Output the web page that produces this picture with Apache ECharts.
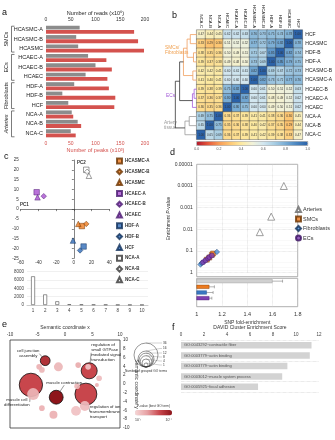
<!DOCTYPE html>
<html><head><meta charset="utf-8">
<script src="https://cdn.jsdelivr.net/npm/echarts@6/dist/echarts.min.js"></script>
<style>html,body{margin:0;padding:0;background:#fff}#c{width:335px;height:440px}</style>
</head><body><div id="c"></div>
<script>
// ---------- DATA ----------
// panel a
const cellLines = ['HCASMC-A','HCASMC-B','HCASMC','HCAEC-A','HCAEC-B','HCAEC','HDF-A','HDF-B','HCF','NCA-A','NCA-B','NCA-C'];
const readsM = [68,61,65,85,100,80,57,33,45,52,64,50];
const peaksK = [178,186,198,122,133,124,127,140,138,55,71,60];
const groupNames = ['SMCs','ECs','Fibroblasts','Arteries'];
const groupStart = [0,3,6,9];
const groupEnd = [2,5,8,11];
// panel b
const hmCols = ['NCA-C','NCA-B','NCA-A','HCAEC','HCAEC-A','HCAEC-B','HCASMC-A','HCASMC-B','HDF-A','HDF-B','HCASMC','HCF'];
const hmRows = ['HCF','HCASMC','HDF-B','HDF-A','HCASMC-B','HCASMC-A','HCAEC-B','HCAEC-A','HCAEC','NCA-A','NCA-B','NCA-C'];
const corr = [
 [0.47,0.44,0.45,0.62,0.62,0.63,0.76,0.73,0.75,0.74,0.78,1.00],
 [0.33,0.29,0.30,0.51,0.52,0.52,0.77,0.72,0.79,0.82,1.00,0.78],
 [0.38,0.35,0.36,0.50,0.49,0.51,0.71,0.67,0.85,1.00,0.82,0.74],
 [0.39,0.37,0.38,0.49,0.48,0.50,0.73,0.69,1.00,0.85,0.79,0.75],
 [0.42,0.42,0.41,0.60,0.61,0.61,0.82,1.00,0.69,0.67,0.72,0.73],
 [0.41,0.40,0.41,0.60,0.60,0.60,1.00,0.82,0.73,0.71,0.77,0.76],
 [0.39,0.38,0.39,0.75,0.82,1.00,0.60,0.61,0.50,0.51,0.52,0.63],
 [0.37,0.36,0.37,0.80,1.00,0.82,0.60,0.61,0.48,0.49,0.52,0.62],
 [0.36,0.35,0.36,1.00,0.80,0.75,0.60,0.60,0.49,0.50,0.51,0.62],
 [0.69,0.75,1.00,0.36,0.37,0.39,0.41,0.41,0.38,0.36,0.30,0.45],
 [0.65,1.00,0.75,0.35,0.36,0.38,0.40,0.42,0.37,0.35,0.29,0.44],
 [1.00,0.65,0.69,0.36,0.37,0.39,0.41,0.42,0.39,0.38,0.33,0.47]
];
// dendrogram links
const dendroA = [0,2,0.5,4,1.5,6,6.5,3,9,9.5,5.125];
const dendroB = [1,3,2.5,5,4.5,7,8,7.25,10,11,10.25];
const dendroHA = [0,0,0.30,0,0.45,0,0.12,0.62,0,0.35,0.8];
const dendroHB = [0,0,0.15,0,0.18,0,0,0.2,0,0,0.55];
const dendroH = [0.30,0.15,0.45,0.18,0.62,0.12,0.2,0.8,0.35,0.55,1.0];
const dendroCluster = [0,0,0,0,0,1,1,2,3,3,2];
// panel c
const pc1 = [9,14,5,-42,-34,-41,11,7,-1,14,15,17];
const pc2 = [-8.6,-7.5,-7.5,8.6,6.6,6,-19,-21,-16,20,19,17];
const screeComp = ['1','2','3','4','5','6','7','8','9','10'];
const screeVal = [6900,2550,900,200,150,120,100,60,50,40];
// panel d
const artFold = [1.69,1.59,1.50], artP = [0.0001,0.0026,0.0135];
const smcFold = [1.08,1.10,1.12,1.13], smcP = [0.25,0.2,0.15,0.13];
const fibFold = [1.03,1.04,1.06,1.16], fibP = [0.42,0.36,0.3,0.11];
const ecFold = [1.05,1.07,1.09,1.10,1.12], ecP = [0.33,0.27,0.22,0.19,0.16];
const enrichGroups = ['Arteries','SMCs','Fibroblasts','ECs',''];
const meanFold = [1.60,1.10,1.08,1.10];
const foldErr = [0.08,0.04,0.05,0.02];
// panel e
const goLabel = ['cell junction\nassembly','muscle cell\ndifferentiation','','muscle contraction','regulation of\nsmall GTPase\nmediated signal\ntransduction','regulation of ion\ntransmembrane\ntransport','','','','','','','','','','','',''];
const goX = [-3.6,-6.2,-5.8,-1.6,4.4,3.8,-1.2,-4.7,-4.2,2.4,6.2,5.8,2.2,-4.2,-2.1,2.0,3.6,4.2];
const goY = [5.3,-0.2,-2.3,-3.0,3.0,-2.3,3.9,3.9,3.2,4.3,1.3,-0.2,-0.5,-5.5,-7.0,-6.1,-5.0,3.9];
const goN = [6,34,9,12,16,30,5,2,2,2,2,1,2,2,4,6,6,2];
const goLogP = [3.4,3.0,1.6,4.0,3.0,3.0,1.6,1.7,1.6,1.8,1.5,1.7,1.6,1.7,1.7,1.4,1.5,1.3];
const sizeLegendN = [36,16,12,8,4,1];
// panel f
const davidTerms = ['GO:0043292~contractile fiber','GO:0003779~actin binding','GO:0003779~actin binding','GO:0003012~muscle system process','GO:0005925~focal adhesion'];
const davidScore = [11.35,11.2,9.25,8.8,6.7];

// ---------- STYLE ----------
const FONT = 'Liberation Sans, Arial, sans-serif';
const RED = '#d4524e', GRAY = '#8c8c8c';
const cOr = '#ec7a1f', cPu = '#a84fd0', cBl = '#2f6cb8';
const dendroColors = ['#f0a060','#a45ad8','#333','#9a9a9a'];
const goLabelPos = [[-17,-7,'center'],[-14,17,'center'],null,[8,-14.5,'center'],[2,-18,'left'],[4,18,'left']];
const bubbleD = n => 4*Math.sqrt(n);

const chart = echarts.init(document.getElementById('c'));
const noLine = {show:false};

const pcaStyle = [
 ['rect',cOr,'#6a3300'],['diamond',cOr,'#6a3300'],['triangle',cOr,'#6a3300'],
 ['rect',cPu,'#4a1a70'],['diamond',cPu,'#4a1a70'],['triangle',cPu,'#4a1a70'],
 ['rect',cBl,'#10305a'],['diamond',cBl,'#10305a'],['triangle',cBl,'#10305a'],
 ['rect','#fff','#333'],['diamond','#fff','#333'],['triangle','#fff','#333']
];
const pcaSeries = cellLines.map((n,i)=>({
  type:'scatter', name:n, xAxisIndex:5, yAxisIndex:4, symbol:pcaStyle[i][0], symbolSize:5.5,
  itemStyle:{color:pcaStyle[i][1], borderColor:pcaStyle[i][2], borderWidth:0.6},
  data:[[pc1[i],pc2[i]]]
}));

const heatData = [];
hmRows.forEach((r,ri)=>hmCols.forEach((c,ci)=>heatData.push([ci,ri,corr[ri][ci]])));

const logFmt = v => v>=1 ? '1' : v.toFixed(Math.round(-Math.log10(v)));

const option = {
 animation:false,
 textStyle:{fontFamily:FONT},
 grid:[
  {left:46, top:25, width:99, height:113},
  {left:196.7, top:30, width:111, height:109.3},
  {left:170, top:30, width:26.7, height:109.3},
  {left:20.7, top:160, width:88.6, height:98.3},
  {left:27, top:271.7, width:121, height:33.3},
  {left:196.7, top:164.3, width:101, height:108.4},
  {left:196.7, top:278.3, width:101, height:28.4, show:true, borderColor:'#999', borderWidth:0.8},
  {left:10, top:340, width:110, height:88, show:true, borderColor:'#333', borderWidth:0.8},
  {left:181, top:340, width:138, height:52},
  {left:196.7, top:141.5, width:111, height:4}
 ],
 xAxis:[
  {gridIndex:0, type:'value', min:0, max:200, interval:50, position:'bottom', axisLine:noLine, axisTick:noLine, splitLine:noLine,
   axisLabel:{fontSize:5, color:RED, margin:3}, name:'Number of peaks (x10³)', nameLocation:'middle', nameGap:9, nameTextStyle:{fontSize:5.5, color:RED}},
  {gridIndex:0, type:'value', min:0, max:200, interval:50, position:'top', axisLine:noLine, axisTick:noLine, splitLine:noLine,
   axisLabel:{fontSize:5, color:'#333', margin:3}, name:'Number of reads (x10⁶)', nameLocation:'middle', nameGap:9, nameTextStyle:{fontSize:5.5, color:'#222'}},
  {gridIndex:1, type:'category', data:hmCols, position:'top', axisLine:noLine, axisTick:noLine, axisLabel:{rotate:90, fontSize:4.3, margin:2, color:'#222'}},
  {gridIndex:9, type:'value', min:0, max:1, interval:0.2, axisLine:noLine, axisTick:noLine, splitLine:noLine, axisLabel:{fontSize:3.5, margin:2, color:'#555', formatter:v=>v.toFixed(1)}},
  {gridIndex:2, type:'value', min:0, max:1.25, inverse:true, show:false},
  {gridIndex:3, type:'value', min:-60, max:40, interval:20, axisLine:{lineStyle:{color:'#333', width:0.6}}, axisTick:{length:2, lineStyle:{width:0.6}}, splitLine:noLine, axisLabel:{fontSize:4.5, margin:2, color:'#333'}},
  {gridIndex:4, type:'category', data:screeComp, axisLine:{lineStyle:{color:'#ccc'}}, axisTick:noLine, axisLabel:{fontSize:4.5, margin:3, color:'#444'}},
  {gridIndex:5, type:'value', min:1, max:1.8, interval:0.2, axisLine:noLine, axisTick:noLine, axisLabel:{show:false}, splitLine:{lineStyle:{type:'dotted', color:'#ccc', width:0.6}}},
  {gridIndex:6, type:'value', min:1, max:1.8, interval:0.2, axisLine:noLine, axisTick:noLine, axisLabel:{fontSize:5.5, margin:5, color:'#333', formatter:v=>String(+v.toFixed(1))},
   splitLine:{lineStyle:{type:'dotted', color:'#ccc', width:0.6}}, name:'SNP fold-enrichment', nameLocation:'middle', nameGap:13, nameTextStyle:{fontSize:5, color:'#333'}},
  {gridIndex:7, type:'value', min:-10, max:10, interval:5, position:'top', axisLine:noLine, axisTick:noLine, splitLine:noLine, axisLabel:{fontSize:4.5, margin:3, color:'#333'},
   name:'Semantic coordinate x', nameLocation:'middle', nameGap:10, nameTextStyle:{fontSize:5, color:'#333'}},
  {gridIndex:8, type:'value', min:0, max:12, interval:2, position:'top', axisLine:noLine, axisTick:noLine, splitLine:noLine, axisLabel:{fontSize:4.5, margin:3, color:'#444'},
   name:'DAVID Cluster Enrichment Score', nameLocation:'middle', nameGap:10, nameTextStyle:{fontSize:5, color:'#333'}}
 ],
 yAxis:[
  {gridIndex:0, type:'category', data:cellLines, inverse:true, axisLine:noLine, axisTick:noLine, axisLabel:{fontSize:5.5, margin:3, color:'#222'}},
  {gridIndex:1, type:'category', data:hmRows, inverse:true, position:'right', axisLine:noLine, axisTick:noLine, axisLabel:{fontSize:5, margin:3, color:'#222'}},
  {gridIndex:9, type:'value', show:false},
  {gridIndex:2, type:'value', min:-0.5, max:11.5, inverse:true, show:false},
  {gridIndex:3, type:'value', min:-25, max:25, interval:5, axisLine:{lineStyle:{color:'#333', width:0.6}}, axisTick:{length:2, lineStyle:{width:0.6}}, splitLine:noLine, axisLabel:{fontSize:4.5, margin:2, color:'#333'}},
  {gridIndex:4, type:'value', min:0, max:8000, interval:2000, axisLine:noLine, axisTick:noLine, splitLine:{lineStyle:{color:'#e6e6e6', width:0.6}}, axisLabel:{fontSize:4.5, margin:3, color:'#444', formatter:v=>String(v)}},
  {gridIndex:5, type:'log', min:0.00001, max:1, inverse:true, axisLine:noLine, axisTick:noLine, axisLabel:{fontSize:5, margin:4, color:'#333', formatter:logFmt},
   splitLine:{lineStyle:{type:'dotted', color:'#ccc', width:0.6}}, minorTick:{show:false, splitNumber:4}, minorSplitLine:{show:true, lineStyle:{type:'dotted', color:'#e2e2e2', width:0.5}},
   name:'Enrichment {i|P}-value', nameLocation:'middle', nameGap:24, nameTextStyle:{fontSize:5, color:'#333', rich:{i:{fontStyle:'italic', fontSize:5}}}},
  {gridIndex:6, type:'category', data:enrichGroups, inverse:true, show:false},
  {gridIndex:7, type:'value', min:-10, max:10, interval:2, position:'right', axisLine:noLine, axisTick:noLine, splitLine:noLine, axisLabel:{fontSize:4.5, margin:3, color:'#333'},
   name:'Semantic coordinate y', nameLocation:'middle', nameGap:12, nameRotate:-90, nameTextStyle:{fontSize:5, color:'#333'}},
  {gridIndex:8, type:'category', data:davidTerms.map((t,i)=>String(i)), inverse:true, axisLine:noLine, axisTick:noLine, axisLabel:{show:false},
   splitLine:{show:true, lineStyle:{type:'dotted', color:'#c8c8c8', width:0.6}}}
 ],
 visualMap:[
  {type:'continuous', seriesIndex:3, dimension:2, min:0, max:1, orient:'horizontal', left:196.7, top:141.5, itemWidth:4, itemHeight:111, padding:0,
   calculable:false, hoverLink:false, text:null,
   inRange:{color:['#b2182b','#e4553a','#f79a55','#fdc672','#fde9a0','#f2f2d8','#d2e6ef','#a8cde3','#78acd4','#4a85c0','#2b62a8']}},
  {type:'continuous', seriesIndex:24, dimension:3, min:1, max:4, orient:'horizontal', left:135, top:410, itemWidth:5.5, itemHeight:37, padding:0,
   calculable:false, hoverLink:false, text:null, inRange:{color:['#f6d6d6','#e6a0a3','#c8464c','#8e151b']}}
 ],
 legend:[
  {data:cellLines, orient:'vertical', left:116, top:157.5, itemWidth:5, itemHeight:5, itemGap:3.8, padding:0,
   textStyle:{fontSize:4.5, fontWeight:'bold', color:'#333', padding:[0,0,0,-2]}},
  {data:['Arteries','SMCs','Fibroblasts','ECs'], orient:'vertical', left:295, top:206, itemWidth:5, itemHeight:5, itemGap:2.5, padding:0,
   textStyle:{fontSize:5.5, color:'#333', padding:[0,0,0,-3]}}
 ],
 series:[
  {type:'bar', name:'reads', xAxisIndex:1, yAxisIndex:0, data:readsM, barWidth:3.8, barGap:'12%', itemStyle:{color:GRAY}},
  {type:'bar', name:'peaks', xAxisIndex:0, yAxisIndex:0, data:peaksK, barWidth:3.8, barGap:'12%', itemStyle:{color:RED}},
  {type:'custom', xAxisIndex:0, yAxisIndex:0, data:groupStart.map((s,i)=>[s, groupEnd[i]]),
   renderItem:function(params, api){
     const band = api.size([0,1])[1];
     const p0 = api.coord([0, api.value(0)]), p1 = api.coord([0, api.value(1)]);
     const y0 = p0[1]-band/2+1.2, y1 = p1[1]+band/2-1.2;
     const xL = p0[0]-34.5, xR = xL+3;
     return {type:'group', children:[
      {type:'polyline', shape:{points:[[xR,y0],[xL,y0],[xL,y1],[xR,y1]]}, style:{stroke:'#444', fill:null, lineWidth:0.7}},
      {type:'text', x:xL-5, y:(y0+y1)/2, rotation:Math.PI/2, style:{text:groupNames[params.dataIndex], fontSize:5.5, fill:'#222', align:'center', verticalAlign:'middle',
        fontStyle: params.dataIndex===3?'italic':'normal', fontFamily:FONT}}
     ]};
   }},
  {type:'heatmap', xAxisIndex:2, yAxisIndex:1, data:heatData, itemStyle:{borderColor:'#3a3a3a', borderWidth:0.4},
   label:{show:true, fontSize:3, color:'#333', formatter:p=>p.value[2].toFixed(2)}},
  {type:'custom', xAxisIndex:4, yAxisIndex:3, data:dendroA.map((a,i)=>[dendroHA[i], a, dendroB[i], dendroHB[i], dendroH[i], dendroCluster[i]]),
   renderItem:function(params, api){
     const a = api.coord([api.value(0), api.value(1)]);
     const ja = api.coord([api.value(4), api.value(1)]);
     const jb = api.coord([api.value(4), api.value(2)]);
     const b = api.coord([api.value(3), api.value(2)]);
     return {type:'polyline', shape:{points:[a,ja,jb,b]}, style:{stroke:dendroColors[api.value(5)], fill:null, lineWidth:0.8}};
   }},
  ...pcaSeries,
  {type:'bar', name:'scree', xAxisIndex:6, yAxisIndex:5, data:screeVal, barWidth:4, itemStyle:{color:'#fff', borderColor:'#666', borderWidth:0.7}},
  {type:'scatter', name:'Arteries', xAxisIndex:7, yAxisIndex:6, symbol:'triangle', symbolSize:7, itemStyle:{color:'#fff', borderColor:'#666', borderWidth:0.8}, data:artFold.map((f,i)=>[f,artP[i]])},
  {type:'scatter', name:'SMCs', xAxisIndex:7, yAxisIndex:6, symbol:'rect', symbolSize:5, itemStyle:{color:cOr, borderColor:'#6a3300', borderWidth:0.5}, data:smcFold.map((f,i)=>[f,smcP[i]])},
  {type:'scatter', name:'Fibroblasts', xAxisIndex:7, yAxisIndex:6, symbol:'diamond', symbolSize:5.5, itemStyle:{color:'#4a8fd6', borderColor:'#10305a', borderWidth:0.5}, data:fibFold.map((f,i)=>[f,fibP[i]])},
  {type:'scatter', name:'ECs', xAxisIndex:7, yAxisIndex:6, symbol:'circle', symbolSize:5, itemStyle:{color:'#7e3fb0', borderColor:'#3a1060', borderWidth:0.5}, data:ecFold.map((f,i)=>[f,ecP[i]])},
  {type:'bar', name:'enrichBar', xAxisIndex:8, yAxisIndex:7, barWidth:4,
   data:meanFold.map((v,i)=>({value:v, itemStyle:{color:['#d0d0d0',cOr,'#3a78c2','#7e3fb0'][i], borderColor:['#999','#7a3a00','#1a4a8a','#4a1a70'][i], borderWidth:0.4}}))},
  {type:'custom', xAxisIndex:8, yAxisIndex:7, data:meanFold.map((v,i)=>[v-foldErr[i], i, v+foldErr[i]]),
   renderItem:function(params, api){
     const a = api.coord([api.value(0), api.value(1)]), b = api.coord([api.value(2), api.value(1)]);
     return {type:'group', children:[
       {type:'line', shape:{x1:a[0],y1:a[1],x2:b[0],y2:b[1]}, style:{stroke:'#666', lineWidth:0.5}},
       {type:'line', shape:{x1:b[0],y1:b[1]-1.5,x2:b[0],y2:b[1]+1.5}, style:{stroke:'#666', lineWidth:0.5}}
     ]};
   }},
  {type:'scatter', name:'go', xAxisIndex:9, yAxisIndex:8,
   symbolSize:v=>bubbleD(v[2]),
   data:goX.map((x,i)=>({value:[x, goY[i], goN[i], goLogP[i]], name:goLabel[i],
     itemStyle: goLabel[i] ? {borderColor:'#111', borderWidth:0.8, opacity:1} : {opacity:0.92},
     label: goLabel[i] ? {show:true} : {show:false},
     labelLine: goLabel[i] ? {show:true} : {show:false}})),
   label:{show:false, formatter:p=>p.name, fontSize:4.3, color:'#222', lineHeight:5},
   labelLine:{show:false, lineStyle:{color:'#333', width:0.5}},
   labelLayout:function(p){
     const o = goLabelPos[p.dataIndex];
     if(!o) return {};
     return {x:p.rect.x+p.rect.width/2+o[0], y:p.rect.y+p.rect.height/2+o[1], align:o[2], verticalAlign:'middle'};
   }},
  {type:'bar', name:'david', xAxisIndex:10, yAxisIndex:9, data:davidScore, barWidth:6.5, itemStyle:{color:'#d3d3d3'},
   label:{show:true, position:'insideLeft', distance:3, fontSize:4, color:'#555', formatter:p=>davidTerms[p.dataIndex]}}
 ],
 graphic:[]
};

// panel letters and annotations
const G = option.graphic;
[['a',2,13],['b',172,16],['c',4,157],['d',170,153],['e',2,325],['f',172,328]].forEach(t=>
  G.push({type:'text', x:t[1], y:t[2], style:{text:t[0], fontSize:9, fill:'#111', fontFamily:FONT, verticalAlign:'middle'}}));
G.push({type:'text', x:165, y:50, style:{text:'SMCs/\nFibroblasts', fontSize:4.8, fill:'#f0a050', fontFamily:FONT, verticalAlign:'middle', lineHeight:5.5}});
G.push({type:'text', x:166, y:96, style:{text:'ECs', fontSize:4.8, fill:'#a45ad8', fontFamily:FONT, verticalAlign:'middle'}});
G.push({type:'text', x:164, y:125, style:{text:'Artery\ntissue', fontSize:4.8, fill:'#999', fontFamily:FONT, verticalAlign:'middle', lineHeight:5.5}});
G.push({type:'rect', shape:{x:196.7, y:141.5, width:111, height:4}, style:{fill:null, stroke:'#333', lineWidth:0.4}});
G.push({type:'text', x:20, y:205, style:{text:'PC1', fontSize:4.5, fontWeight:'bold', fill:'#333', fontFamily:FONT, verticalAlign:'middle'}});
G.push({type:'text', x:77, y:163, style:{text:'PC2', fontSize:4.5, fontWeight:'bold', fill:'#333', fontFamily:FONT, verticalAlign:'middle'}});
G.push({type:'rect', shape:{x:196.7, y:164.3, width:101, height:112.4}, style:{fill:null, stroke:'#999', lineWidth:0.8}});
// panel e size legend
const lx = 146, lb = 367;
const labY = [343,348.5,353,357,361,365];
sizeLegendN.forEach((n,i)=>{
  const r = bubbleD(n)/2;
  G.push({type:'circle', shape:{cx:lx, cy:lb-r, r:r}, style:{fill:null, stroke:'#333', lineWidth:0.5}});
  G.push({type:'polyline', shape:{points:[[lx,lb-2*r],[lx+14,labY[i]],[lx+16,labY[i]]]}, style:{fill:null, stroke:'#666', lineWidth:0.3}});
  G.push({type:'text', x:lx+17, y:labY[i], style:{text:String(n), fontSize:3.2, fill:'#333', fontFamily:FONT, verticalAlign:'middle'}});
});
G.push({type:'text', x:lx, y:371, style:{text:'Number of grouped GO terms', fontSize:3.2, fill:'#333', fontFamily:FONT, align:'center', verticalAlign:'middle'}});
G.push({type:'text', x:153.5, y:406.5, style:{text:'P-value (best GO term)', fontSize:3.2, fill:'#333', fontFamily:FONT, align:'center', verticalAlign:'middle'}});
G.push({type:'text', x:135, y:420, style:{text:'10⁻¹', fontSize:3.5, fill:'#333', fontFamily:FONT, align:'left', verticalAlign:'middle'}});
G.push({type:'text', x:172, y:420, style:{text:'10⁻⁴', fontSize:3.5, fill:'#333', fontFamily:FONT, align:'right', verticalAlign:'middle'}});

chart.setOption(option);
</script></body></html>
